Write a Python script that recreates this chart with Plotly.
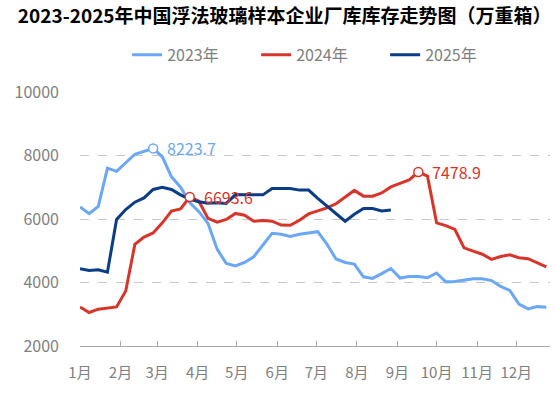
import plotly.graph_objects as go

months = ["1月", "2月", "3月", "4月", "5月", "6月", "7月", "8月", "9月", "10月", "11月", "12月"]
month_days = [31, 28, 31, 30, 31, 30, 31, 31, 30, 31, 30, 31]

y2023 = [6380, 6170, 6400, 7600, 7500, 7770, 8040, 8130, 8223.7, 7960,
         7330, 7000, 6520, 6230, 5860, 5050, 4600, 4520, 4630, 4810,
         5180, 5550, 5520, 5450, 5520, 5560, 5600, 5210, 4740, 4630,
         4580, 4180, 4130, 4280, 4440, 4140, 4190, 4190, 4150, 4300,
         4020, 4030, 4070, 4120, 4120, 4060, 3880, 3750, 3320, 3170,
         3240, 3220]
y2024 = [3230, 3055, 3160, 3200, 3230, 3730, 5200, 5430, 5560, 5880,
         6250, 6320, 6693.6, 6560, 6020, 5900, 5985, 6175, 6120, 5930,
         5950, 5930, 5810, 5800, 5960, 6160, 6250, 6350, 6480, 6690,
         6900, 6720, 6720, 6820, 7010, 7120, 7230, 7478.9, 7350, 5880,
         5790, 5670, 5090, 4990, 4890, 4730, 4820, 4870, 4780, 4750,
         4610, 4490]
y2025 = [4430, 4380, 4400, 4325, 5985, 6300, 6530, 6665, 6930, 7000,
         6930, 6760, 6620, 6540, 6500, 6510, 6490, 6770, 6760, 6760,
         6760, 6960, 6950, 6960, 6910, 6910, 6650, 6400, 6160, 5930,
         6150, 6330, 6330, 6250, 6280]

series = [("2023年", y2023, "#6AA7F7"), ("2024年", y2024, "#D8352A"), ("2025年", y2025, "#0B3C86")]

FONT = "Noto Sans CJK SC, Microsoft YaHei, sans-serif"

fig = go.Figure()
for name, ys, color in series:
    fig.add_trace(go.Scatter(x=list(range(len(ys))), y=ys, name=name, mode="lines",
                             line=dict(color=color, width=3), hoverinfo="skip"))

# max markers with labels (2023 max, 2024 first-half max and overall max)
marks = []
marks.append((y2023.index(max(y2023)), y2023, "#6AA7F7"))
half = y2024[:20]
marks.append((half.index(max(half)), y2024, "#D8352A"))
marks.append((y2024.index(max(y2024)), y2024, "#D8352A"))
for i, ys, color in marks:
    fig.add_trace(go.Scatter(x=[i], y=[ys[i]], mode="markers",
                             marker=dict(size=9, color="white", line=dict(color=color, width=1.5)),
                             showlegend=False, hoverinfo="skip"))
    fig.add_annotation(x=i, y=ys[i], text=f"{ys[i]:.1f}", showarrow=False,
                       xanchor="left", yanchor="middle", xshift=12,
                       font=dict(color=color, size=16, family=FONT))

tickvals = []
acc = 0
for d in month_days:
    tickvals.append(acc / 7)
    acc += d

fig.update_layout(
    width=555, height=393,
    margin=dict(l=80, r=5, t=92, b=47, autoexpand=False),
    paper_bgcolor="white", plot_bgcolor="white",
    font=dict(family=FONT, color="#808080", size=15),
    title=dict(text="<b>2023-2025年中国浮法玻璃样本企业厂库库存走势图（万重箱）</b>",
               x=0.513, xanchor="center", y=1 - 16 / 393, yanchor="middle", yref="container",
               font=dict(size=19, color="black", family=FONT)),
    legend=dict(orientation="h", x=0.512, xanchor="center", y=1.146, yanchor="middle",
                font=dict(size=16, color="#808080"), entrywidth=84, entrywidthmode="pixels",
                itemwidth=30, bgcolor="rgba(0,0,0,0)"),
    showlegend=True,
)
fig.update_xaxes(range=[0, 51.4], tickvals=tickvals, ticktext=months, showgrid=False,
                 showline=True, linecolor="#AAAAAA", linewidth=1, ticks="inside", ticklen=5,
                 tickcolor="#AAAAAA", ticklabelstandoff=13, zeroline=False,
                 tickfont=dict(size=15, color="#808080"))
fig.update_yaxes(range=[2000, 10000], dtick=2000, tickformat="d", showgrid=True, gridcolor="#C8C8C8",
                 griddash="dash", gridwidth=1, zeroline=False, showline=False,
                 ticklabelstandoff=20, tickfont=dict(size=16, color="#808080"))

fig.write_html("out.html", config={"displayModeBar": False},
               post_script="document.body.style.margin='0';document.body.style.padding='0';")
